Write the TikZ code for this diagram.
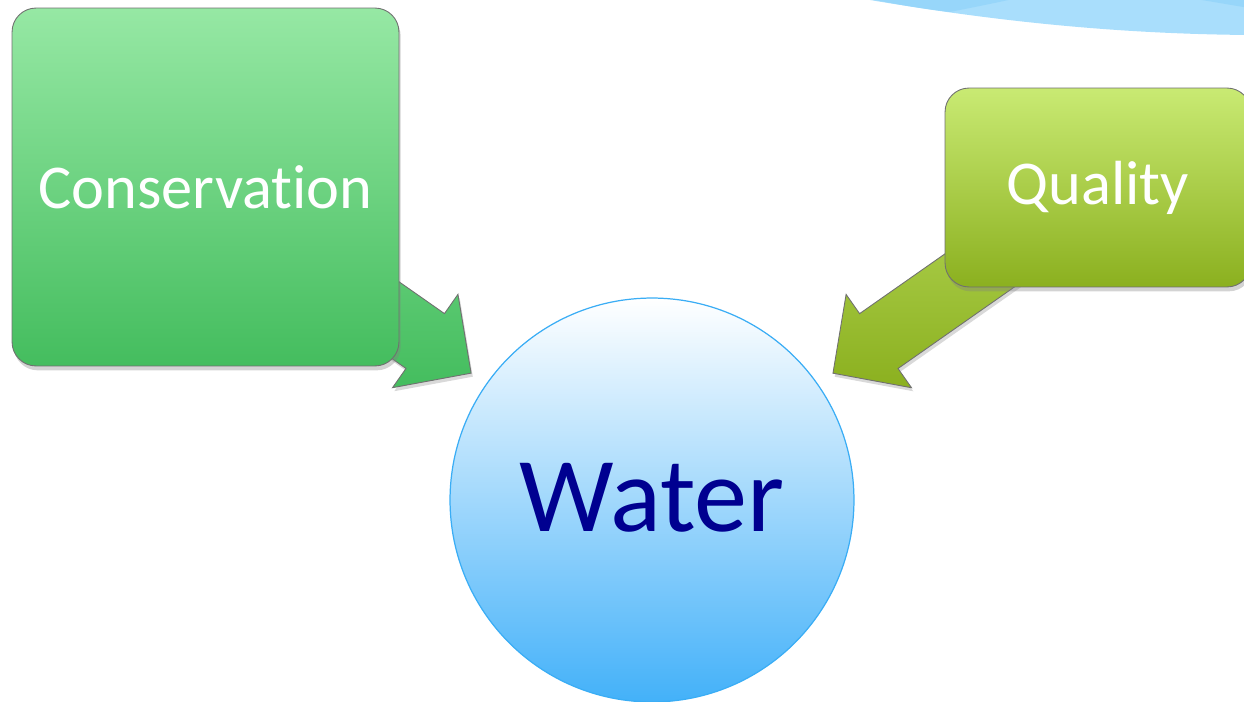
\documentclass[tikz,border=0pt]{standalone}
\usepackage{fontspec}
\setmainfont{Carlito}[Ligatures=NoCommon]
\usetikzlibrary{shapes,calc,shadows,backgrounds}

\definecolor{consTop}{HTML}{96E8A4}
\definecolor{consBot}{HTML}{44BD5E}
\definecolor{qualTop}{HTML}{C9EA73}
\definecolor{qualBot}{HTML}{8BB01F}
\definecolor{waterBot}{HTML}{43B1F9}
\definecolor{waterLine}{HTML}{3AADF5}
\definecolor{waterText}{HTML}{000090}
\definecolor{waveLight}{HTML}{A9DEFC}
\definecolor{waveDark}{HTML}{97D6FA}
\definecolor{edgeGray}{HTML}{707070}

\tikzset{
block/.style = {draw=edgeGray, line width=0.5pt, rectangle, rounded corners=0.48cm, inner sep=0pt,
  text=white, font=\fontsize{35.5}{42}\selectfont,
  drop shadow={opacity=0.35, shadow xshift=1pt, shadow yshift=-2.5pt}},
waterdisc/.style = {draw=waterLine, line width=0.7pt, circle, minimum size=8.08cm, inner sep=0pt,
  top color=white, bottom color=waterBot, text=waterText, font=\fontsize{60.5}{70}\selectfont},
bigarrow/.style = {draw=edgeGray, line width=0.5pt,
  drop shadow={opacity=0.3, shadow xshift=1pt, shadow yshift=-2pt}},
consarrow/.style = {bigarrow, top color=consTop!60!consBot, bottom color=consBot},
qualarrow/.style = {bigarrow, top color=qualTop!70!qualBot, bottom color=qualBot}
}

\begin{document}
\begin{tikzpicture}[x=0.02cm, y=-0.02cm]
    \useasboundingbox (0,0) rectangle (1244,702);
    \clip (0,0) rectangle (1244,702);

    % We start by placing the blocks
    \node [block, minimum width=7.74cm, minimum height=7.16cm,
           top color=consTop, bottom color=consBot] (cons) at (205.5,187) {Conservation};
    \node [block, minimum width=6.12cm, minimum height=3.98cm,
           top color=qualTop, bottom color=qualBot] (qual) at (1098,187.5) {Quality};
    \node [waterdisc] (water) at (652,500) {\raisebox{0.1cm}{Water}};

    % arrow tips and necks, on the line between the centres
    \coordinate (cTip)  at ($(water.center)!4.42cm!(cons.center)$);
    \coordinate (cNeck) at ($(water.center)!5.54cm!(cons.center)$);
    \coordinate (qTip)  at ($(water.center)!4.42cm!(qual.center)$);
    \coordinate (qNeck) at ($(water.center)!5.54cm!(qual.center)$);

    \begin{scope}[on background layer]
    \clip (0,0) rectangle (1244,702);
    % the wave in the corner
    \fill [waveLight] (870,-5) -- (870,0) .. controls (1000,22) and (1120,34) .. (1250,35) -- (1250,-5) -- cycle;
    \fill [waveDark] (870,-1) .. controls (900,5) and (925,9) .. (950,12)
                     .. controls (975,7) and (995,3) .. (1013,-1) -- cycle;
    \fill [waveDark] (1195,-1) .. controls (1215,2) and (1230,5) .. (1250,8) -- (1250,-1) -- cycle;

    % Once the nodes are placed, the block arrows run behind them
    \path [consarrow] ($(cons.center)!0.67cm!90:(cTip)$) -- ($(cNeck)!0.67cm!90:(cTip)$)
        -- ($(cNeck)!1.14cm!90:(cTip)$) -- (cTip) -- ($(cNeck)!1.14cm!-90:(cTip)$)
        -- ($(cNeck)!0.67cm!-90:(cTip)$) -- ($(cons.center)!0.67cm!-90:(cTip)$) -- cycle;
    \path [qualarrow] ($(qual.center)!0.67cm!90:(qTip)$) -- ($(qNeck)!0.67cm!90:(qTip)$)
        -- ($(qNeck)!1.14cm!90:(qTip)$) -- (qTip) -- ($(qNeck)!1.14cm!-90:(qTip)$)
        -- ($(qNeck)!0.67cm!-90:(qTip)$) -- ($(qual.center)!0.67cm!-90:(qTip)$) -- cycle;
    \end{scope}
\end{tikzpicture}
\end{document}
